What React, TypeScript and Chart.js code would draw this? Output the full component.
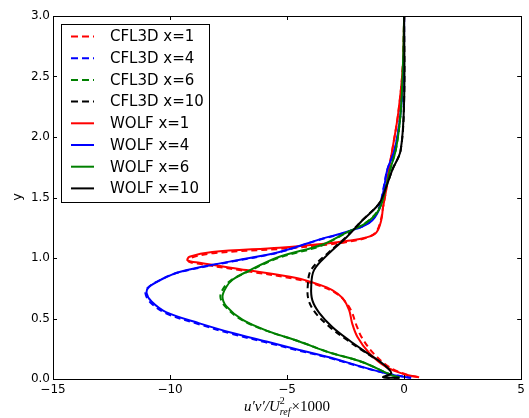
import React, { useEffect, useRef } from 'react';
import { Chart, registerables } from 'chart.js';

Chart.register(...registerables);

// ---- axis ticks ----
const xTicks = [-15, -10, -5, 0, 5];
const yTicks = [0, 0.5, 1.0, 1.5, 2.0, 2.5, 3.0];

// ---- series labels / colours ----
const seriesLabels = ['CFL3D x=1', 'CFL3D x=4', 'CFL3D x=6', 'CFL3D x=10', 'WOLF x=1', 'WOLF x=4', 'WOLF x=6', 'WOLF x=10'];
const seriesColors = ['#ff0000', '#0000ff', '#008000', '#000000', '#ff0000', '#0000ff', '#008000', '#000000'];

// ---- WOLF x=1 ----
const wolf1Y = [3.0, 2.6, 2.2, 1.9, 1.7, 1.56, 1.42, 1.31, 1.21, 1.17, 1.14, 1.12, 1.085, 1.05, 1.01, 0.98, 0.96, 0.90, 0.835, 0.78, 0.735, 0.67, 0.57, 0.46, 0.35, 0.215, 0.10, 0.035, 0.015];
const wolf1X = [0.0, -0.05, -0.25, -0.5, -0.68, -0.77, -0.9, -0.98, -1.19, -1.62, -2.47, -3.3, -5.33, -8.2, -9.17, -9.25, -8.74, -6.74, -4.6, -3.62, -3.07, -2.64, -2.35, -2.22, -2.0, -1.49, -0.77, 0.08, 0.64];
// ---- CFL3D x=1 ----
const cfl1Y = [3.0, 2.6, 2.2, 1.9, 1.7, 1.56, 1.42, 1.31, 1.21, 1.165, 1.13, 1.11, 1.075, 1.04, 1.0, 0.97, 0.95, 0.89, 0.825, 0.77, 0.725, 0.66, 0.56, 0.45, 0.34, 0.21, 0.10, 0.035, 0.015];
const cfl1X = [0.0, -0.05, -0.25, -0.5, -0.68, -0.77, -0.9, -1.0, -1.22, -1.65, -2.5, -3.3, -5.3, -8.15, -9.12, -9.2, -8.7, -6.7, -4.6, -3.6, -3.05, -2.6, -2.25, -2.05, -1.8, -1.3, -0.65, 0.12, 0.68];

// ---- WOLF x=4 ----
const wolf4Y = [3.0, 2.6, 2.2, 1.9, 1.73, 1.59, 1.40, 1.29, 1.215, 1.16, 1.05, 0.97, 0.885, 0.82, 0.76, 0.71, 0.64, 0.55, 0.46, 0.38, 0.31, 0.24, 0.18, 0.10, 0.04, 0.01];
const wolf4X = [0.0, -0.02, -0.15, -0.4, -0.72, -0.85, -1.07, -1.49, -2.47, -3.5, -5.33, -7.46, -9.6, -10.4, -10.9, -11.0, -10.79, -10.15, -8.74, -7.33, -5.88, -4.48, -3.2, -1.79, -0.64, 0.3];
// ---- CFL3D x=4 ----
const cfl4Y = [3.0, 2.6, 2.2, 1.9, 1.73, 1.59, 1.40, 1.29, 1.21, 1.155, 1.045, 0.965, 0.88, 0.815, 0.755, 0.705, 0.635, 0.545, 0.455, 0.375, 0.305, 0.235, 0.175, 0.095, 0.04, 0.01];
const cfl4X = [0.0, -0.02, -0.15, -0.4, -0.72, -0.87, -1.1, -1.52, -2.5, -3.55, -5.38, -7.5, -9.65, -10.45, -10.95, -11.05, -10.85, -10.2, -8.8, -7.4, -5.95, -4.5, -3.2, -1.75, -0.6, 0.3];

// ---- WOLF x=6 ----
const wolf6Y = [3.0, 2.6, 2.2, 1.9, 1.73, 1.59, 1.40, 1.29, 1.21, 1.11, 1.01, 0.885, 0.82, 0.76, 0.68, 0.60, 0.49, 0.40, 0.31, 0.22, 0.14, 0.03, 0.015];
const wolf6X = [0.0, -0.05, -0.15, -0.35, -0.6, -0.77, -1.07, -1.62, -2.47, -3.5, -5.33, -6.74, -7.33, -7.6, -7.76, -7.59, -6.91, -5.88, -4.48, -3.2, -1.79, -0.51, -0.2];
// ---- CFL3D x=6 ----
const cfl6Y = [3.0, 2.6, 2.2, 1.9, 1.73, 1.59, 1.40, 1.29, 1.205, 1.10, 1.0, 0.875, 0.815, 0.755, 0.68, 0.60, 0.49, 0.40, 0.31, 0.22, 0.14, 0.03, 0.015];
const cfl6X = [0.0, -0.05, -0.15, -0.35, -0.6, -0.78, -1.1, -1.65, -2.5, -3.55, -5.38, -6.8, -7.4, -7.7, -7.85, -7.65, -6.95, -5.9, -4.48, -3.2, -1.79, -0.51, -0.2];

// ---- WOLF x=10 ----
const wolf10Y = [3.0, 2.31, 1.89, 1.73, 1.58, 1.45, 1.31, 1.17, 1.04, 0.90, 0.76, 0.65, 0.545, 0.43, 0.32, 0.22, 0.13, 0.05, 0.015, 0.01];
const wolf10X = [0.0, 0.0, -0.15, -0.5, -0.78, -1.07, -1.79, -2.47, -3.2, -3.85, -3.97, -3.92, -3.62, -3.07, -2.35, -1.62, -0.94, -0.55, -0.9, -0.2];
// ---- CFL3D x=10 ----
const cfl10Y = [3.0, 2.31, 1.89, 1.73, 1.58, 1.45, 1.31, 1.17, 1.04, 0.90, 0.76, 0.65, 0.545, 0.43, 0.32, 0.22, 0.13, 0.05, 0.015, 0.01];
const cfl10X = [0.0, 0.0, -0.15, -0.5, -0.78, -1.07, -1.8, -2.5, -3.26, -3.98, -4.12, -4.08, -3.78, -3.18, -2.42, -1.66, -0.96, -0.55, -0.9, -0.2];

const seriesX = [cfl1X, cfl4X, cfl6X, cfl10X, wolf1X, wolf4X, wolf6X, wolf10X];
const seriesY = [cfl1Y, cfl4Y, cfl6Y, cfl10Y, wolf1Y, wolf4Y, wolf6Y, wolf10Y];

const fmtX = (v: number) => (v < 0 ? '\u2212' + Math.abs(v) : String(v));

const decorPlugin = {
  id: 'decor',
  afterDatasetsDraw(chart: any) {
    const ctx = chart.ctx;
    const { left, right, top, bottom } = chart.chartArea;
    const xs = chart.scales.x;
    const ys = chart.scales.y;
    ctx.save();
    ctx.strokeStyle = '#000';
    ctx.lineWidth = 1;
    ctx.strokeRect(Math.round(left) + 0.5, Math.round(top) + 0.5, Math.round(right - left), Math.round(bottom - top));
    const tl = 4;
    ctx.beginPath();
    for (const v of xTicks) {
      const px = Math.round(xs.getPixelForValue(v)) + 0.5;
      ctx.moveTo(px, bottom); ctx.lineTo(px, bottom - tl);
      ctx.moveTo(px, top); ctx.lineTo(px, top + tl);
    }
    for (const v of yTicks) {
      const py = Math.round(ys.getPixelForValue(v)) + 0.5;
      ctx.moveTo(left, py); ctx.lineTo(left + tl, py);
      ctx.moveTo(right, py); ctx.lineTo(right - tl, py);
    }
    ctx.stroke();
    ctx.restore();
  },
  afterDraw(chart: any) {
    const ctx = chart.ctx;
    ctx.save();
    // legend
    const bx = 61.5, by = 24.5, bw = 148, bh = 178;
    ctx.fillStyle = '#fff';
    ctx.fillRect(bx, by, bw, bh);
    ctx.strokeStyle = '#000';
    ctx.lineWidth = 1;
    ctx.strokeRect(bx, by, bw, bh);
    ctx.font = '15px "DejaVu Sans"';
    ctx.textBaseline = 'middle';
    ctx.textAlign = 'left';
    seriesLabels.forEach((lab, i) => {
      const yy = 36.5 + i * 21.7;
      ctx.beginPath();
      ctx.strokeStyle = seriesColors[i];
      ctx.lineWidth = 2;
      ctx.setLineDash(i < 4 ? [7, 4] : []);
      ctx.moveTo(71, yy); ctx.lineTo(94, yy);
      ctx.stroke();
      ctx.setLineDash([]);
      ctx.fillStyle = '#000';
      ctx.fillText(lab, 110, yy + 1);
    });
    // y axis title
    ctx.save();
    ctx.translate(21, 197);
    ctx.rotate(-Math.PI / 2);
    ctx.font = '13px "DejaVu Sans"';
    ctx.textAlign = 'center';
    ctx.textBaseline = 'alphabetic';
    ctx.fillStyle = '#000';
    ctx.fillText('y', 0, 0);
    ctx.restore();
    // x axis title: u'v'/U_ref^2 x1000
    const base = 411;
    const big = 'italic 15px "Liberation Serif"';
    const small = 'italic 10px "Liberation Serif"';
    const up = '15px "Liberation Serif"';
    const p1 = 'u\u2032v\u2032/U';
    ctx.font = big; const w1 = ctx.measureText(p1).width;
    ctx.font = small; const wsup = ctx.measureText('2').width; const wsub = ctx.measureText('ref').width;
    const p3 = '\u00d71000';
    ctx.font = up; const w3 = ctx.measureText(p3).width;
    const total = w1 + Math.max(wsup, wsub) + 1 + w3;
    let x0 = 287 - total / 2;
    ctx.textAlign = 'left';
    ctx.textBaseline = 'alphabetic';
    ctx.fillStyle = '#000';
    ctx.font = big; ctx.fillText(p1, x0, base);
    x0 += w1;
    ctx.font = '10px "Liberation Serif"'; ctx.fillText('2', x0, base - 7);
    ctx.font = small; ctx.fillText('ref', x0, base + 4);
    x0 += Math.max(wsup, wsub) + 1;
    ctx.font = up; ctx.fillText(p3, x0, base);
    ctx.restore();
  },
};

export default function App() {
  const ref = useRef<HTMLCanvasElement>(null);
  useEffect(() => {
    document.body.style.margin = '0';
    const datasets = seriesLabels.map((lab, i) => ({
      label: lab,
      data: seriesX[i].map((x, j) => ({ x, y: seriesY[i][j] })),
      borderColor: seriesColors[i],
      backgroundColor: seriesColors[i],
      borderWidth: 2,
      borderDash: i < 4 ? [6, 4] : [],
      pointRadius: 0,
      showLine: true,
      fill: false,
      tension: 0.35,
      order: 8 - i,
    }));
    const chart = new Chart(ref.current as HTMLCanvasElement, {
      type: 'scatter',
      data: { datasets },
      options: {
        responsive: false,
        devicePixelRatio: 1,
        animation: false,
        layout: { padding: { left: 0, right: 7, top: 16, bottom: 0 } },
        plugins: { legend: { display: false }, tooltip: { enabled: false } },
        scales: {
          x: {
            type: 'linear',
            min: -15,
            max: 5,
            afterFit: (s: any) => { s.height = 39; },
            afterBuildTicks: (s: any) => { s.ticks = xTicks.map((v) => ({ value: v })); },
            grid: { display: false, drawTicks: false },
            border: { display: false },
            ticks: {
              padding: 4,
              color: '#000',
              font: { family: '"DejaVu Sans"', size: 12 },
              maxRotation: 0,
              callback: (v: any) => fmtX(Number(v)),
            },
          },
          y: {
            type: 'linear',
            min: 0,
            max: 3,
            afterFit: (s: any) => { s.width = 53; },
            afterBuildTicks: (s: any) => { s.ticks = yTicks.map((v) => ({ value: v })); },
            grid: { display: false, drawTicks: false },
            border: { display: false },
            ticks: {
              padding: 3,
              color: '#000',
              font: { family: '"DejaVu Sans"', size: 12 },
              callback: (v: any) => Number(v).toFixed(1),
            },
          },
        },
      },
      plugins: [decorPlugin],
    } as any);
    return () => chart.destroy();
  }, []);
  return (
    <div style={{ width: 529, height: 418 }}>
      <canvas ref={ref} width={529} height={418} style={{ display: 'block', width: 529, height: 418 }} />
    </div>
  );
}
